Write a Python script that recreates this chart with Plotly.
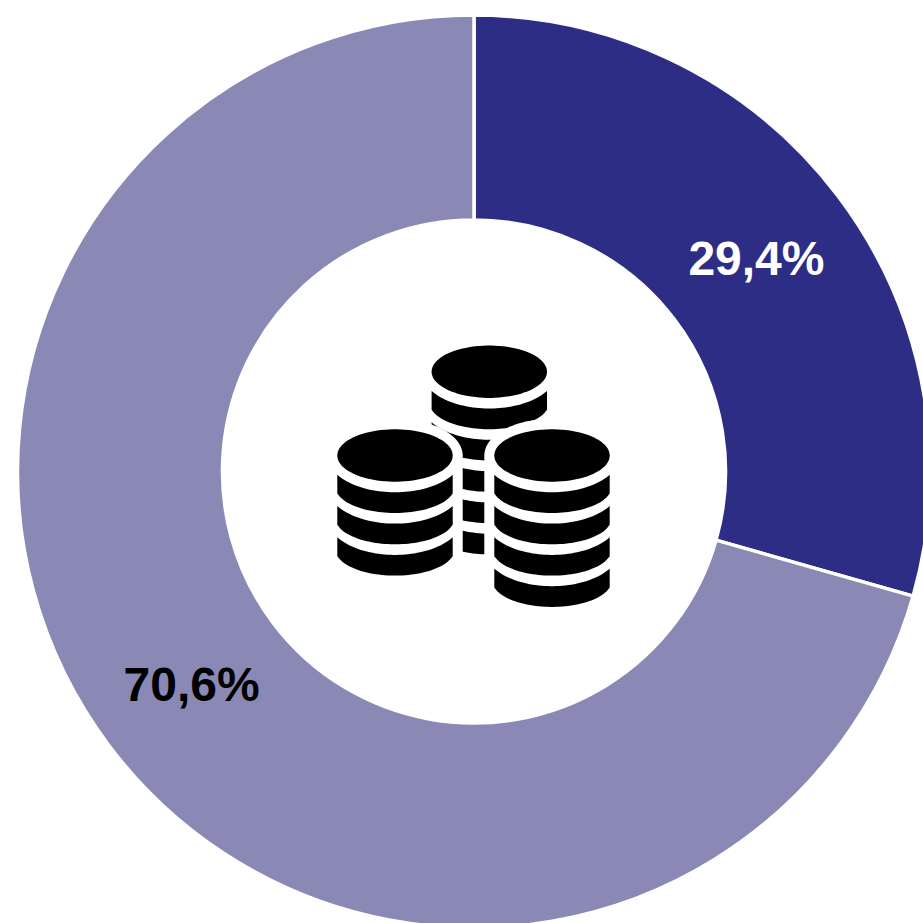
import numpy as np
import plotly.graph_objects as go

categories = ["A", "B"]
values = [29.4, 70.6]
colors = ["#2E2D85", "#8A89B6"]
label_colors = ["#FFFFFF", "#000000"]

W = H = 960
CX, CY, R = 474.0, 471.5, 456.5
HOLE = 0.551

# icon geometry (decorative, in page pixels)
RX, RY, STEP, HX, HY = 57.7, 26.2, 31.3, 10.0, 10.6
STACKS = [(489.3, 371.7, 5), (395.0, 455.5, 3), (552.0, 455.5, 4)]


def px(x, y):
    return x / W, 1 - y / H


def path(points):
    return "M " + " L ".join("%.5f,%.5f" % px(x, y) for x, y in points) + " Z"


def lower(cx, cy, rx, ry, x0, x1, n=40):
    xs = np.linspace(x0, x1, n)
    ys = cy + ry * np.sqrt(np.clip(1 - ((xs - cx) / rx) ** 2, 0, 1))
    return list(zip(xs, ys))


def ellipse(cx, cy, rx, ry, n=90):
    t = np.linspace(0, 2 * np.pi, n, endpoint=False)
    return list(zip(cx + rx * np.cos(t), cy + ry * np.sin(t)))


def blk(points):
    return dict(type="path", xref="paper", yref="paper", path=path(points),
                fillcolor="#000000", line=dict(width=0), layer="above")


def wht(points):
    return dict(type="path", xref="paper", yref="paper", path=path(points),
                fillcolor="#FFFFFF", line=dict(width=0), layer="above")


def stack(cx, cy, n):
    out = [blk(ellipse(cx, cy, RX, RY))]
    for i in range(n):
        c0 = cy + i * STEP
        c1 = c0 + STEP
        top = lower(cx, c0, RX + HX, RY + HY, cx - RX, cx + RX)
        bot = lower(cx, c1, RX + 2, RY, cx + RX, cx - RX)
        out.append(blk(top + bot))
    return out


def halo(cx, cy, n):
    rx, ry = RX + HX, RY + HY
    t = np.linspace(np.pi, 2 * np.pi, 60)
    arc = list(zip(cx + rx * np.cos(t), cy + ry * np.sin(t)))
    bottom = cy + n * STEP + RY + 4
    return wht(arc + [(cx + rx, bottom), (cx - rx, bottom)])


shapes = stack(*STACKS[0])
for s in STACKS[1:]:
    shapes.append(halo(*s))
    shapes += stack(*s)

fig = go.Figure(go.Pie(
    labels=categories,
    values=values,
    sort=False,
    direction="clockwise",
    rotation=0,
    hole=HOLE,
    marker=dict(colors=colors, line=dict(color="#FFFFFF", width=3.5)),
    texttemplate="%{percent:.1%}",
    textposition="inside",
    insidetextorientation="horizontal",
    insidetextfont=dict(family="Liberation Sans", size=48, color=label_colors, weight="bold"),
    domain=dict(x=[(CX - R) / W, (CX + R) / W], y=[1 - (CY + R) / H, 1 - (CY - R) / H]),
    hoverinfo="skip",
))
fig.update_layout(
    width=W, height=H,
    margin=dict(l=0, r=0, t=0, b=0),
    paper_bgcolor="#FFFFFF",
    showlegend=False,
    separators=",.",
    shapes=shapes,
)
fig.write_html(
    "out.html",
    config=dict(displayModeBar=False),
    post_script="document.documentElement.style.overflow='hidden';document.body.style.margin='0';document.body.style.overflow='hidden';",
)
